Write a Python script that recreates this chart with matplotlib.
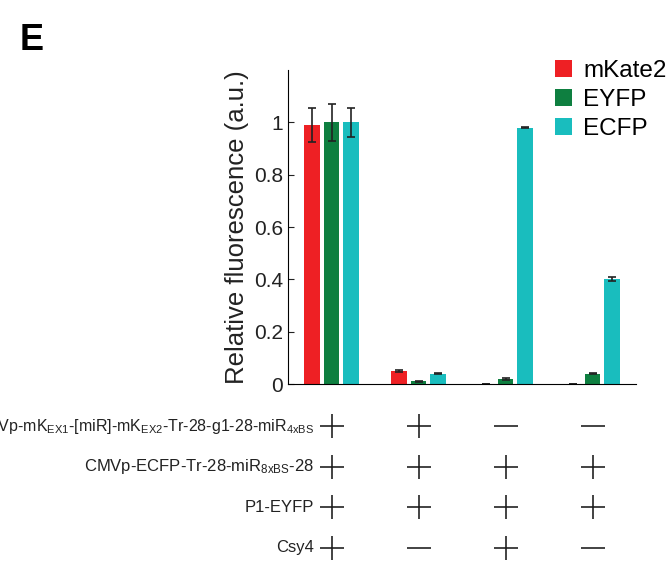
import matplotlib
matplotlib.use('Agg')
import matplotlib.pyplot as plt
import numpy as np

plt.rcParams['font.family'] = ['Liberation Sans', 'DejaVu Sans']
plt.rcParams['mathtext.fontset'] = 'custom'
plt.rcParams['mathtext.rm'] = 'Liberation Sans'
plt.rcParams['mathtext.it'] = 'Liberation Sans'

# data
series = ['mKate2', 'EYFP', 'ECFP']
colors = ['#EE2024', '#0E7F40', '#19BDBE']
mkate = [0.99, 0.05, 0.002, 0.002]
mkate_err = [0.065, 0.003, 0.0, 0.0]
eyfp = [1.0, 0.01, 0.02, 0.04]
eyfp_err = [0.07, 0.002, 0.004, 0.002]
ecfp = [1.0, 0.04, 0.98, 0.40]
ecfp_err = [0.055, 0.002, 0.003, 0.008]

row_labels = [r'CMVp-mK$_{\rm EX1}$-[miR]-mK$_{\rm EX2}$-Tr-28-g1-28-miR$_{\rm 4xBS}$',
              r'CMVp-ECFP-Tr-28-miR$_{\rm 8xBS}$-28',
              'P1-EYFP',
              'Csy4']
# 1 = present (+), 0 = absent (-)
present = [[1, 1, 0, 0],
           [1, 1, 1, 1],
           [1, 1, 1, 1],
           [1, 0, 1, 0]]

fig = plt.figure(figsize=(6.67, 5.64), dpi=100)
ax = fig.add_axes([0.432, 0.319, 0.5215, 0.557])

x = np.arange(1, 5)
w = 0.18
off = 0.225
vals = [mkate, eyfp, ecfp]
errs = [mkate_err, eyfp_err, ecfp_err]
for i in range(3):
    ax.bar(x + (i - 1) * off, vals[i], w, color=colors[i], label=series[i],
           yerr=errs[i], error_kw=dict(ecolor='#222222', elinewidth=1.2, capsize=3, capthick=1.2))

ax.set_xlim(0.5, 4.5)
ax.set_ylim(0, 1.2)
ax.set_yticks([0, 0.2, 0.4, 0.6, 0.8, 1])
ax.set_yticklabels(['0', '0.2', '0.4', '0.6', '0.8', '1'])
ax.set_xticks([])
ax.spines['top'].set_visible(False)
ax.spines['right'].set_visible(False)
ax.tick_params(axis='y', labelsize=15, direction='in', length=4, color='#222222', labelcolor='#222222')
ax.set_ylabel('Relative fluorescence (a.u.)', fontsize=18.5, color='#222222', labelpad=4)
leg = ax.legend(loc='upper left', bbox_to_anchor=(0.705, 1.1), frameon=False, fontsize=17.5,
                handlelength=0.7, handleheight=0.7, handletextpad=0.45, labelspacing=0.28)

fig.text(0.03, 0.96, 'E', fontsize=26, fontweight='bold', va='top', ha='left')

# condition table
ax2 = fig.add_axes([0.432, 0.0, 0.5215, 0.28])
ax2.set_xlim(0.5, 4.5)
ax2.set_ylim(-0.394, 3.49)
ax2.axis('off')
for r, lab in enumerate(row_labels):
    yy = 3 - r
    ax2.text(0.8, yy, lab, ha='right', va='center', fontsize=11.5 if r == 0 else 12,
             color='#222222', clip_on=False)
    for c in range(4):
        m = '+' if present[r][c] else '_'
        ax2.plot(x[c], yy, marker=m, markersize=17, mew=1.2, color='#222222', clip_on=False)

fig.savefig('out.png', dpi=100)
